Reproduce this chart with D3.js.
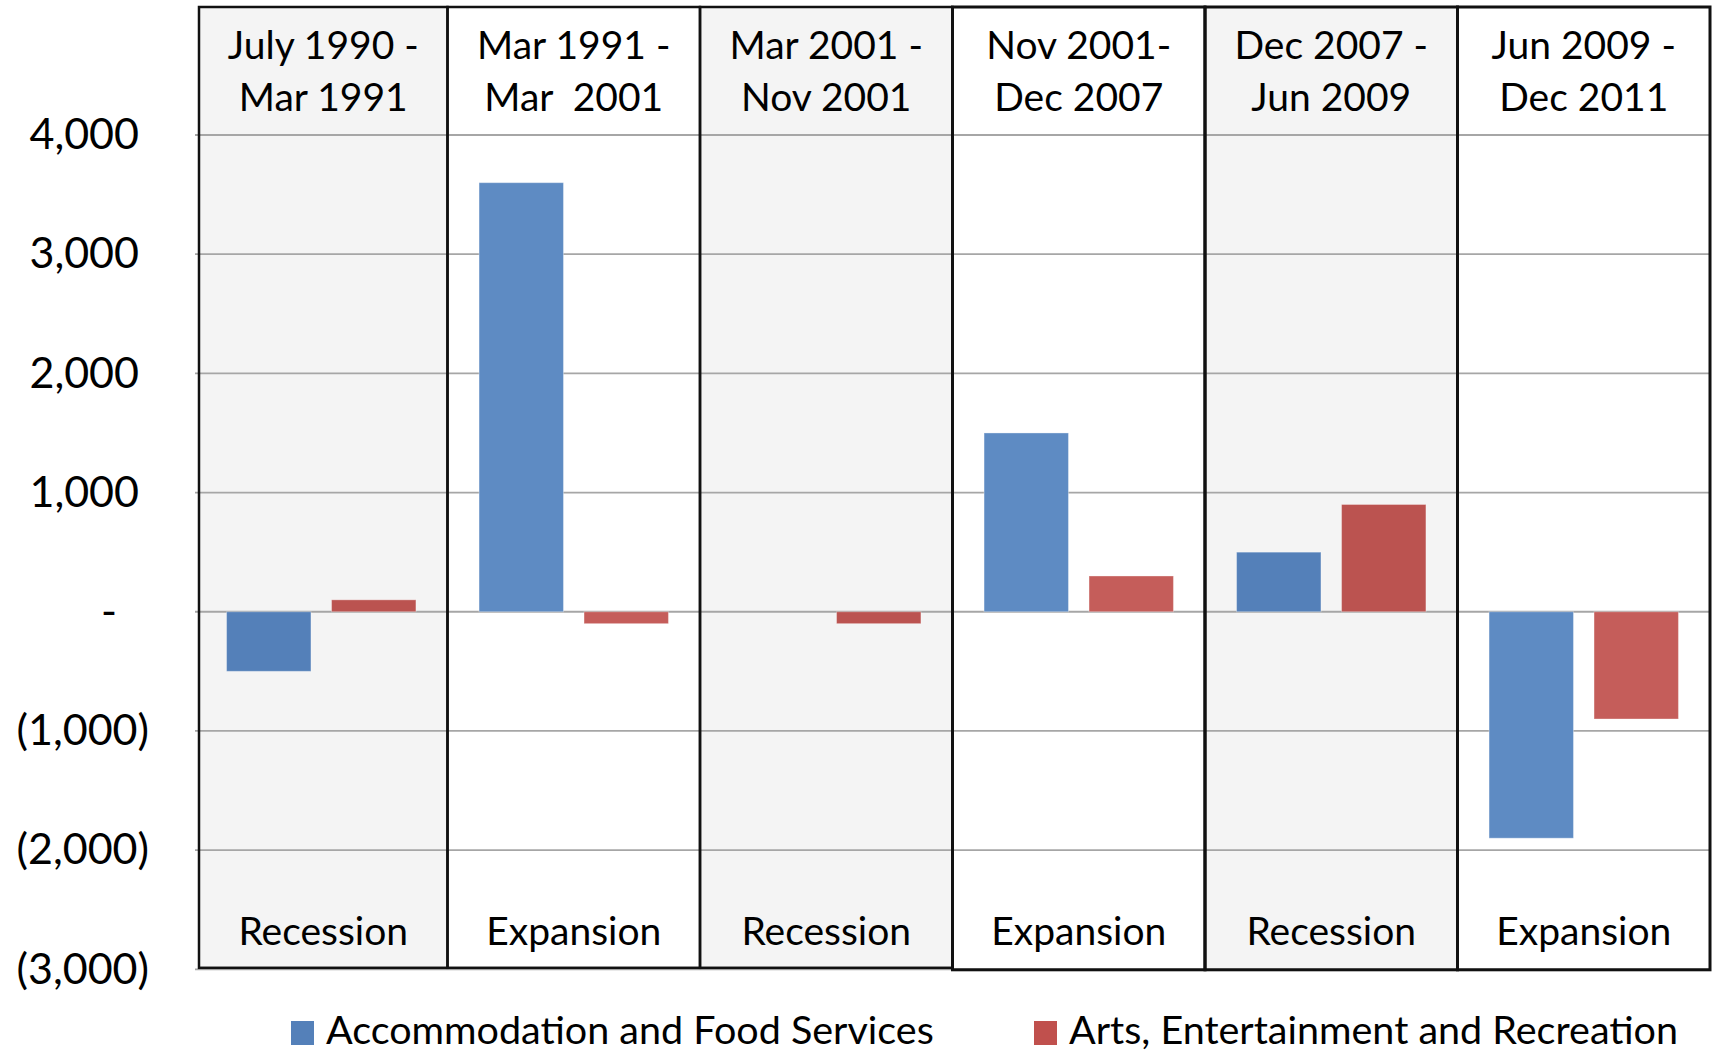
<!DOCTYPE html>
<html>
<head>
<meta charset="utf-8">
<script src="https://cdn.jsdelivr.net/npm/d3@7"></script>
<style>
  html, body { margin: 0; padding: 0; background: #ffffff; }
  svg { display: block; }
  text { font-family: Lato, "Open Sans", sans-serif; fill: #000; white-space: pre; }
</style>
</head>
<body>
<svg id="chart" width="1714" height="1053"></svg>
<script>
// ---- data ----
const periodStart = ["July 1990 -", "Mar 1991 -", "Mar 2001 -", "Nov 2001-", "Dec 2007 -", "Jun 2009 -"];
const periodEnd   = ["Mar 1991", "Mar  2001", "Nov 2001", "Dec 2007", "Jun 2009", "Dec 2011"];
const phases      = ["Recession", "Expansion", "Recession", "Expansion", "Recession", "Expansion"];
const seriesNames = ["Accommodation and Food Services", "Arts, Entertainment and Recreation"];
const accommodation = [-500, 3600, 0, 1500, 500, -1900];
const arts          = [100, -100, -100, 300, 900, -900];
const yTicks = [-3000, -2000, -1000, 0, 1000, 2000, 3000, 4000];

// ---- layout ----
const plotLeft = 195, plotRight = 1710, plotTop = 135, plotBottom = 969.3;
const boxTop = 7;
const svg = d3.select("#chart");

const colors = {
  Recession: ["#5480B9", "#BB5350"],
  Expansion: ["#5E8BC3", "#C55D5A"]
};
const legendColors = ["#5480B9", "#C0504D"];

const x0 = d3.scaleBand().domain(d3.range(periodStart.length))
  .range([plotLeft, plotRight]).paddingInner(0.25).paddingOuter(0.125);
const x1 = d3.scaleBand().domain([0, 1]).range([0, x0.bandwidth()]).paddingInner(0.196);
const y = d3.scaleLinear().domain([-3000, 4000]).range([plotBottom, plotTop]);

const step = x0.step();
const edgeL = i => x0(i) - step * 0.125;
const edgeR = i => x0(i) + x0.bandwidth() + step * 0.125;

const panels = d3.range(periodStart.length).map(i => ({
  i, start: periodStart[i], end: periodEnd[i], phase: phases[i],
  l: edgeL(i) + (i === 0 ? 4 : 0), r: edgeR(i)
}));
const boxH = d => plotBottom - 1.5 - boxTop + (d.i >= 3 ? 2 : 0);

// panel fills
svg.append("g").selectAll("rect").data(panels).join("rect")
  .attr("x", d => d.l).attr("y", boxTop)
  .attr("width", d => d.r - d.l).attr("height", boxH)
  .attr("fill", d => d.phase === "Recession" ? "#F4F4F4" : "#FFFFFF");

// gridlines
svg.append("g").selectAll("line").data(yTicks).join("line")
  .attr("x1", plotLeft).attr("x2", plotRight)
  .attr("y1", d => y(d)).attr("y2", d => y(d))
  .attr("stroke", "#A6A6A6").attr("stroke-width", 1.8);

// bars
const bars = [];
panels.forEach(p => {
  [accommodation[p.i], arts[p.i]].forEach((v, s) => bars.push({ i: p.i, s, v, phase: p.phase }));
});
svg.append("g").selectAll("rect").data(bars.filter(b => b.v !== 0)).join("rect")
  .attr("x", d => x0(d.i) + x1(d.s))
  .attr("width", x1.bandwidth())
  .attr("y", d => y(Math.max(0, d.v)))
  .attr("height", d => Math.abs(y(d.v) - y(0)))
  .attr("fill", d => colors[d.phase][d.s])
  .attr("stroke", "rgba(255,255,255,0.35)").attr("stroke-width", 1);

// panel borders
svg.append("g").selectAll("rect").data(panels).join("rect")
  .attr("x", d => d.l).attr("y", boxTop)
  .attr("width", d => d.r - d.l).attr("height", boxH)
  .attr("fill", "none").attr("stroke", "#111").attr("stroke-width", d => d.i >= 3 ? 3 : 2.5);

// header labels
const hdr = svg.append("g").selectAll("text").data(panels).join("text")
  .attr("text-anchor", "middle").style("font-size", "39px");
hdr.append("tspan").attr("x", d => (d.l + d.r) / 2).attr("y", 59).text(d => d.start);
hdr.append("tspan").attr("x", d => (d.l + d.r) / 2).attr("y", 111).text(d => d.end);

// phase labels
svg.append("g").selectAll("text").data(panels).join("text")
  .attr("x", d => (d.l + d.r) / 2).attr("y", 945)
  .attr("text-anchor", "middle").style("font-size", "39px")
  .text(d => d.phase);

// y axis labels
const fmt = d3.format(",");
const yAxis = d3.axisLeft(y).tickValues(yTicks).tickSize(0).tickPadding(46)
  .tickFormat(v => v > 0 ? fmt(v) : v < 0 ? "(" + fmt(-v) + ")" : "-");
const ga = svg.append("g").attr("transform", `translate(${plotLeft},0)`).call(yAxis);
ga.select(".domain").remove();
ga.selectAll("text")
  .style("font-size", "43px").style("font-family", "Lato, 'Open Sans', sans-serif")
  .attr("fill", "#000")
  .attr("dx", v => v > 0 ? -10 : v < 0 ? 0 : -32);

// legend
const legendX = [291, 1034];
const lg = svg.append("g").selectAll("g").data(seriesNames).join("g")
  .attr("transform", (d, i) => `translate(${legendX[i]},1021)`);
lg.append("rect").attr("width", 23).attr("height", 24).attr("fill", (d, i) => legendColors[i]);
lg.append("text").attr("x", 35).attr("y", 23).style("font-size", "39.5px").text(d => d);
</script>
</body>
</html>
